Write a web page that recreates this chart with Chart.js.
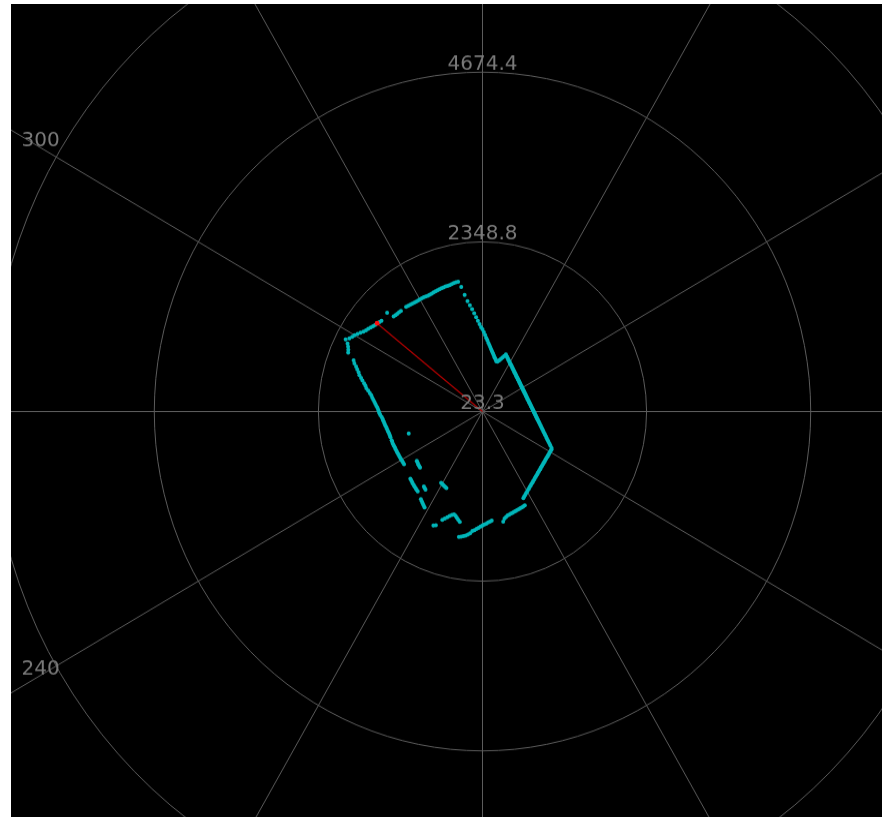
<!DOCTYPE html>
<html>
<head>
<meta charset="utf-8">
<title>Lidar scan</title>
<script src="https://cdn.jsdelivr.net/npm/chart.js@4/dist/chart.umd.min.js"></script>
<style>
  html, body { margin: 0; padding: 0; background: #ffffff; }
  #frame {
    position: absolute; left: 11px; top: 4px;
    width: 871px; height: 813px;
    overflow: hidden; background: #000000;
  }
  #scan {
    display: block;
    transform-origin: 471.5px 407.5px;
    transform: scaleY(1.034);
  }
</style>
</head>
<body>
<div id="frame"><canvas id="scan" width="871" height="813"></canvas></div>
<script>
// Range rings (mm) and bearing labels (degrees, clockwise from north)
const ringValues = [23.3, 2348.8, 4674.4, 7000.0];
const bearingTicks = [0, 30, 60, 90, 120, 150, 180, 210, 240, 270, 300, 330];

// One sweep: measured range in mm for each whole degree (null = no return)
const rangeByDegree = [
  1150, 1112, 1071, 1036, 1003,  969,  943,  914,  890,  865,   // 0
   845,  823,  805,  785,  770,  752,  737,  740,  752,  770,   // 10
   792,  816,  846,  872,  858,  849,  836,  827,  815,  808,   // 20
   797,  790,  780,  774,  765,  760,  751,  746,  739,  735,   // 30
   727,  724,  717,  715,  708,  706,  701,  699,  694,  693,   // 40
   688,  687,  683,  683,  679,  679,  675,  676,  673,  674,   // 50
   671,  673,  670,  672,  670,  673,  671,  674,  673,  676,   // 60
   675,  678,  678,  682,  682,  686,  687,  692,  693,  698,   // 70
   699,  705,  707,  713,  715,  722,  725,  733,  736,  744,   // 80
   748,  757,  762,  771,  777,  787,  793,  804,  811,  823,   // 90
   832,  844,  854,  868,  878,  894,  906,  922,  936,  954,   // 100
   969,  989, 1006, 1028, 1048, 1072, 1094, 1122, 1131, 1129,   // 110
  1130, 1128, 1130, 1129, 1132, 1131, 1134, 1134, 1139, 1139,   // 120
  1144, 1146, 1151, 1153, 1160, 1163, 1170, 1173, 1181, 1186,   // 130
  1195, 1200, 1210, 1216, 1227, 1234, 1246, 1254, 1267, 1276,   // 140
  1290, 1301, 1316, 1328, 1345, 1442, 1446, 1452, 1453, 1459,   // 150
  1460, 1466, 1469, 1476, 1479, 1486, 1491, 1506, 1522, 1562,   // 160
  null, null, null, null, null, 1525, 1536, 1547, 1561, 1571,   // 170
  1586, 1599, 1619, 1634, 1653, 1668, 1702, 1721, 1739, 1751,   // 180
  1766, 1775, 1571, 1548, 1524, 1500, 1490, 1505, 1530, 1555,   // 190
  1585, 1612, null, 1715, 1734, null, 1190, 1185, 1180, 1174,   // 200
  1168, 1162, 1572, 1556, 1540, 1524, 1509, 1365, 1355, 1344,   // 210
  1451, 1445, 1438, 1432, 1425, 1420, 1412, 1405, 1399, 1196,   // 220
  1192, 1188, 1184, 1179, 1174, null, null, 1349, 1349, 1349,   // 230
  1349, 1350, 1351, 1352, 1353, 1354, 1356, 1358, 1360, 1362,   // 240
  1365, 1368, 1369, 1370, 1111, 1374, 1377, 1380, 1386, 1392,   // 250
  1398, 1404, 1412, 1420, 1428, 1436, 1443, 1455, 1472, 1483,   // 260
  1492, 1502, 1514, 1530, 1546, 1562, 1580, 1598, 1615, 1640,   // 270
  1668, 1700, 1720, 1745, 1777, 1805, 1838, 1860, 1890, 1918,   // 280
  1955, 1980, null, 2091, 2105, 2125, 2151, 2200, 2160, 2135,   // 290
  2117, 2090, 2062, 2035, 2015, 2000, 1982, 1965, 1953, 1945,   // 300
  1930, 1920, null, null, null, 1935, 1836, 1829, 1827, 1826,   // 310
  1822, null, null, 1822, 1815, 1810, 1806, 1801, 1799, 1798,   // 320
  1799, 1798, 1796, 1792, 1788, 1789, 1792, 1797, 1800, 1803,   // 330
  1806, 1809, 1813, 1815, 1815, 1818, 1824, 1830, 1833, 1834,   // 340
  1759, 1640, 1551, 1492, 1433, 1376, 1320, 1268, 1221, 1179    // 350
];

// Current heading of the sensor (degree index into the sweep)
const headingDegree = 309;

const degreeLabels = rangeByDegree.map((_, i) => String(i));
const headingData = rangeByDegree.map((v, i) => (i === headingDegree ? v : null));

const GRID = 'rgb(92,92,92)';
const LABEL = 'rgb(122,122,122)';
const LABEL_FONT = '20px "DejaVu Sans", sans-serif';

// Ring and bearing captions, plus the heading ray from the sensor
const polarDecor = {
  id: 'polarDecor',
  beforeDatasetsDraw(chart) {
    const r = chart.scales.r;
    const ctx = chart.ctx;
    const end = r.getPointPositionForValue(headingDegree, rangeByDegree[headingDegree]);
    ctx.save();
    ctx.strokeStyle = '#b00000';
    ctx.lineWidth = 1.2;
    ctx.beginPath();
    ctx.moveTo(r.xCenter, r.yCenter);
    ctx.lineTo(end.x, end.y);
    ctx.stroke();
    ctx.restore();
  },
  afterDraw(chart) {
    const r = chart.scales.r;
    const ctx = chart.ctx;
    ctx.save();
    ctx.font = LABEL_FONT;
    ctx.fillStyle = LABEL;
    ctx.textAlign = 'center';
    ctx.textBaseline = 'alphabetic';
    ringValues.forEach(v => {
      const p = r.getPointPositionForValue(0, v);
      ctx.fillText(v.toFixed(1), p.x, p.y - 2.5);
    });
    const labelRadius = r.getDistanceFromCenterForValue(ringValues[ringValues.length - 1]) + 18;
    bearingTicks.forEach(a => {
      const p = r.getPointPosition(a, labelRadius);
      ctx.fillText(String(a), p.x, p.y - 1);
    });
    ctx.restore();
  }
};

new Chart(document.getElementById('scan'), {
  type: 'radar',
  data: {
    labels: degreeLabels,
    datasets: [
      {
        label: 'heading',
        data: headingData,
        showLine: false,
        fill: false,
        borderWidth: 0,
        pointRadius: 2.4,
        pointHoverRadius: 2.4,
        pointBorderWidth: 0,
        pointBackgroundColor: '#ff1010'
      },
      {
        label: 'scan',
        data: rangeByDegree,
        showLine: false,
        fill: false,
        borderWidth: 0,
        pointRadius: 2,
        pointHoverRadius: 2,
        pointBorderWidth: 0,
        pointBackgroundColor: '#00b6b9'
      }
    ]
  },
  options: {
    responsive: false,
    animation: false,
    events: [],
    layout: { padding: 0 },
    plugins: { legend: { display: false }, tooltip: { enabled: false } },
    scales: {
      r: {
        min: ringValues[0],
        max: 9325.3,
        startAngle: 0,
        ticks: { display: false },
        pointLabels: { display: false },
        grid: { circular: true, color: GRID, lineWidth: 1 },
        angleLines: {
          display: true,
          color: GRID,
          lineWidth: ctx => (ctx.index % 30 === 0 ? 1 : 0)
        },
        afterBuildTicks: scale => {
          scale.ticks = ringValues.map(v => ({ value: v }));
        },
        afterFit: scale => {
          scale.xCenter = 471.5;
          scale.yCenter = 407.5;
          scale.drawingArea = 656.4;
        }
      }
    }
  },
  plugins: [polarDecor]
});
</script>
</body>
</html>
